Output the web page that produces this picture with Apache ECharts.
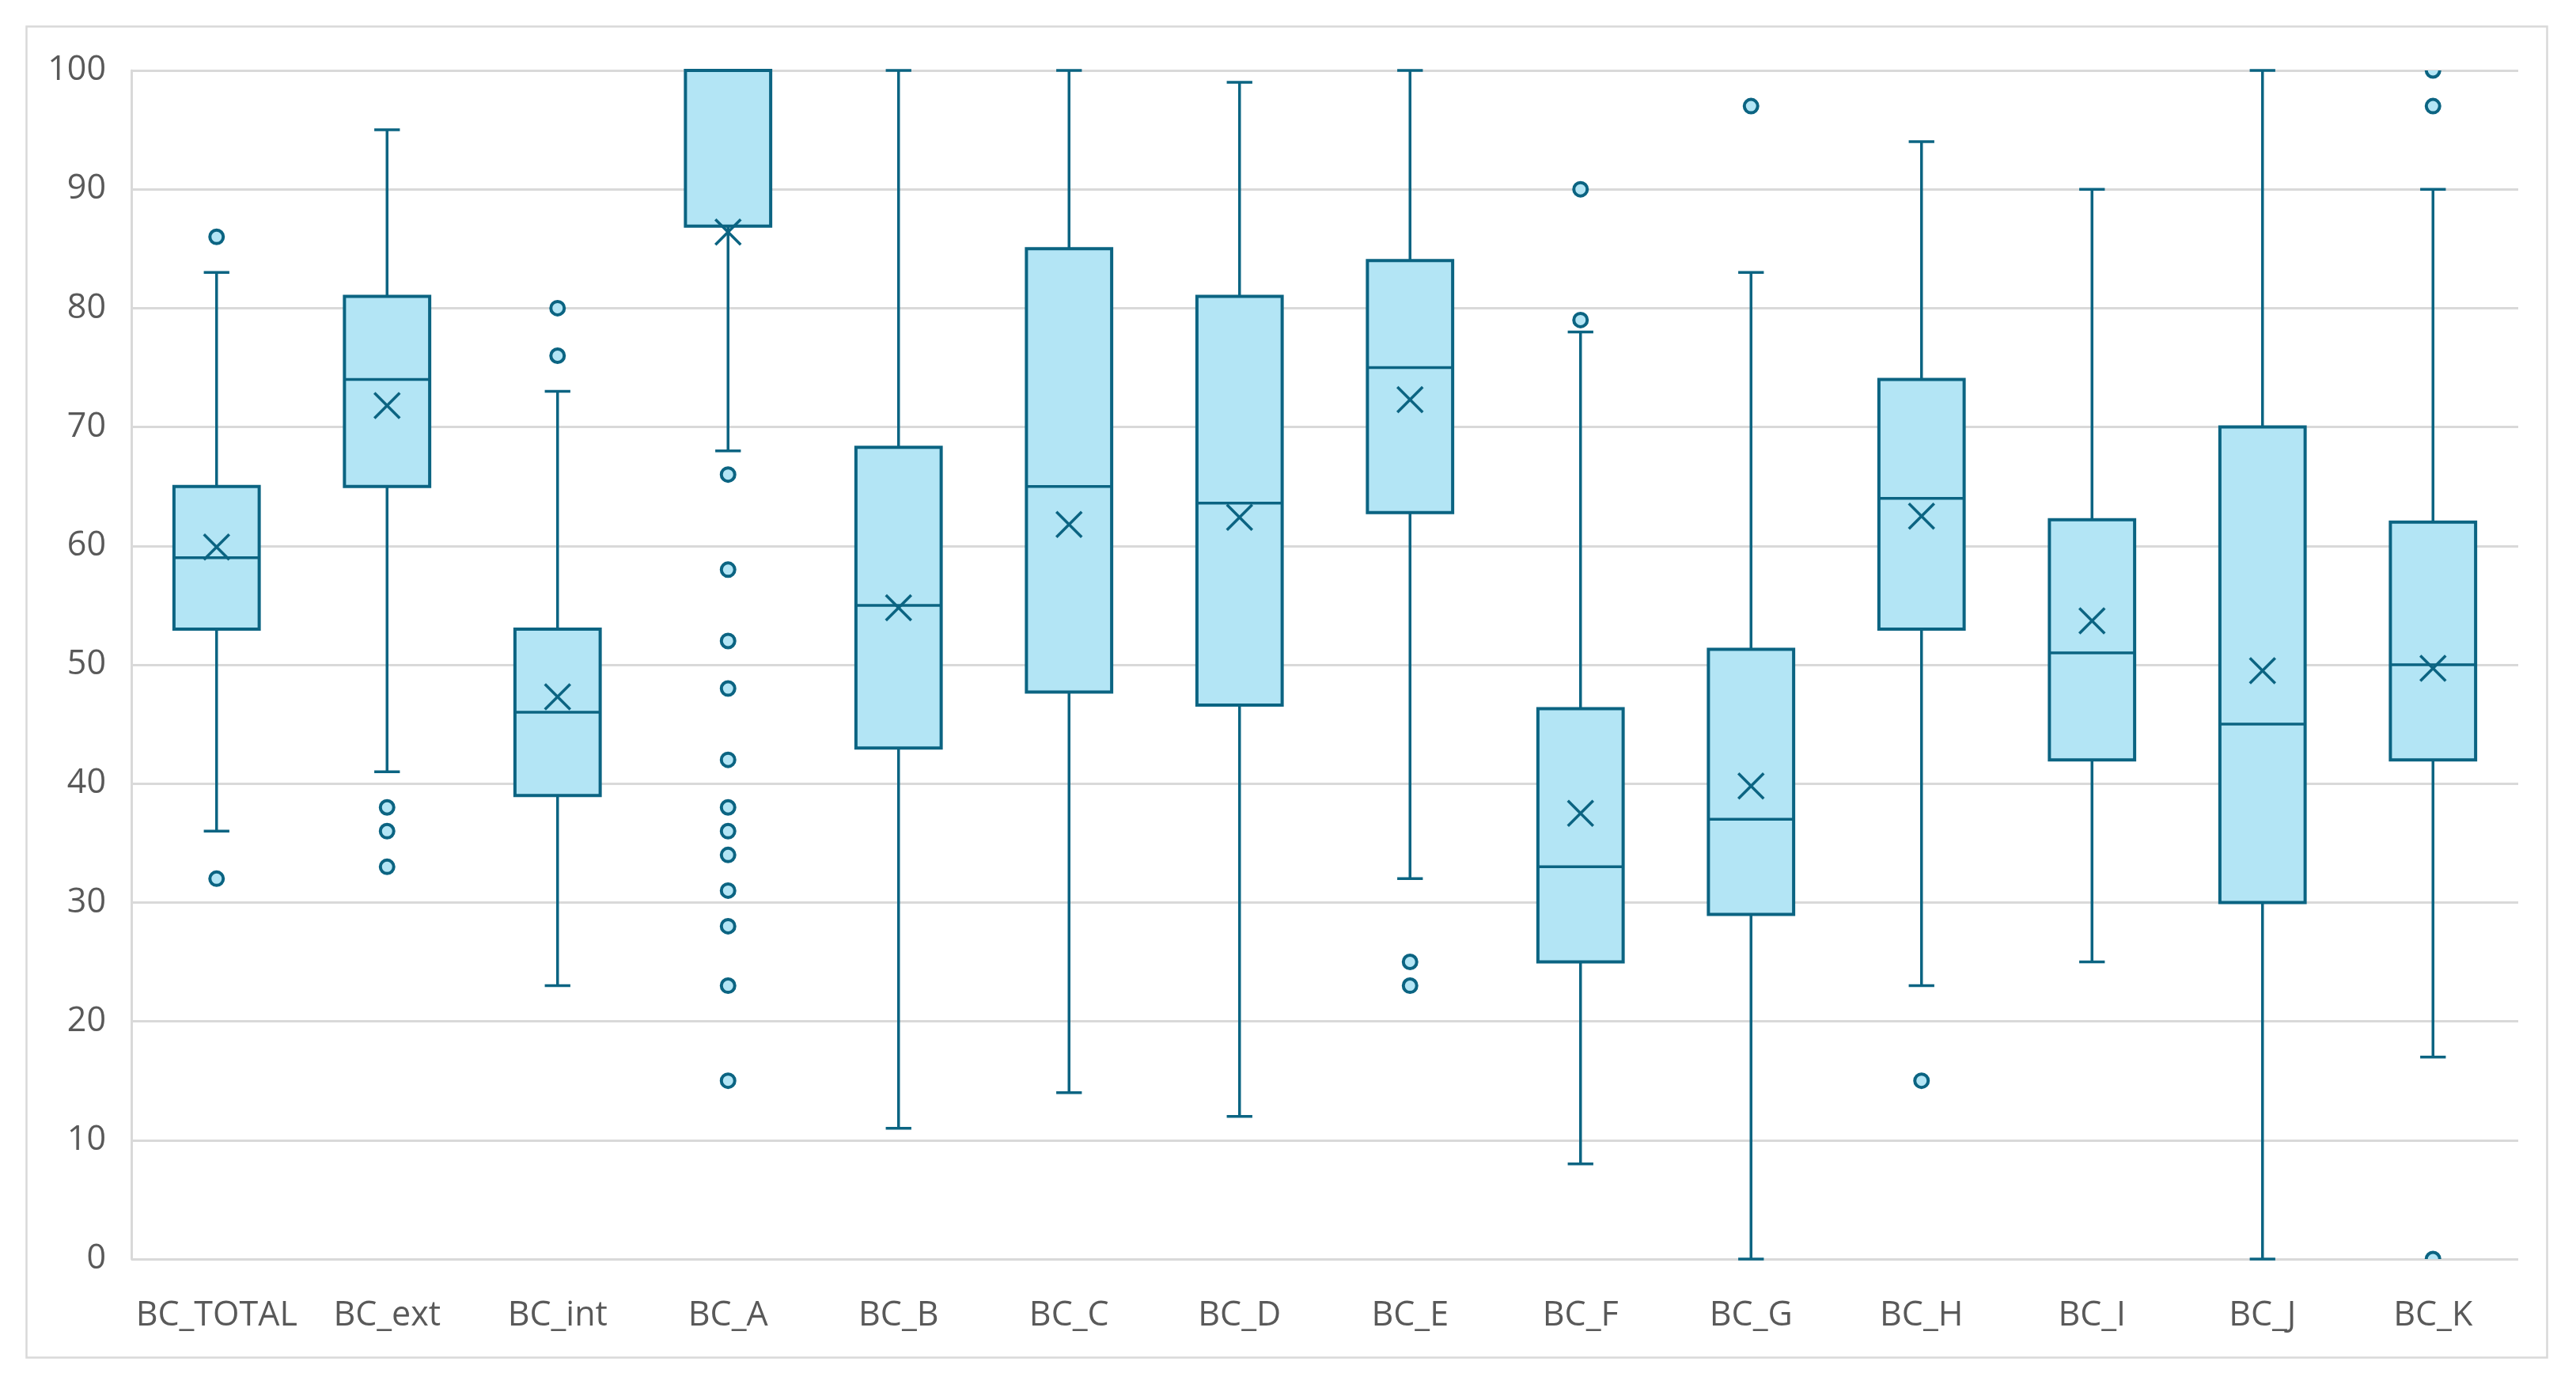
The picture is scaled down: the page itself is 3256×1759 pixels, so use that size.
<!DOCTYPE html>
<html><head><meta charset="utf-8">
<script src="https://cdn.jsdelivr.net/npm/echarts@6/dist/echarts.min.js"></script>
<style>html,body{margin:0;padding:0;background:#fff}#c{width:3256px;height:1759px}</style>
</head><body><div id="c"></div>
<script>
const categories = ['BC_TOTAL','BC_ext','BC_int','BC_A','BC_B','BC_C','BC_D','BC_E','BC_F','BC_G','BC_H','BC_I','BC_J','BC_K'];
const whiskerLow  = [36, 41, 23, 68,   11, 14,   12,   32,   8,    0,    23, 25,   0,  17];
const q1          = [53, 65, 39, 86.9, 43, 47.7, 46.6, 62.8, 25,   29,   53, 42,   30, 42];
const median      = [59, 74, 46, 100,  55, 65,   63.6, 75,   33,   37,   64, 51,   45, 50];
const q3          = [65, 81, 53, 100,  68.3, 85, 81,   84,   46.3, 51.3, 74, 62.2, 70, 62];
const whiskerHigh = [83, 95, 73, 100,  100, 100, 99,   100,  78,   83,   94, 90,   100, 90];
const means       = [59.9, 71.8, 47.3, 86.4, 54.8, 61.8, 62.4, 72.3, 37.5, 39.8, 62.5, 53.7, 49.5, 49.7];
const outliers = [
  [86, 32],
  [38, 36, 33],
  [80, 76],
  [66, 58, 52, 48, 42, 38, 36, 34, 31, 28, 23, 15],
  [], [], [],
  [25, 23],
  [90, 79],
  [97],
  [15],
  [], [],
  [100, 97, 0]
];
const yMin = 0, yMax = 100, yStep = 10;

const STROKE = '#0B6482';
const FILL = '#B3E5F5';
const GRID = '#D9D9D9';
const TEXT = '#595959';
const FONT = '"Open Sans", "Noto Sans", sans-serif';

const boxData = categories.map((c, i) => [i, whiskerLow[i], q1[i], median[i], q3[i], whiskerHigh[i]]);
const meanData = categories.map((c, i) => [i, means[i]]);
const outlierData = [];
outliers.forEach((arr, i) => arr.forEach(v => outlierData.push([i, v])));

function renderBox(params, api) {
  const i = api.value(0);
  const lo = api.coord([i, api.value(1)]);
  const p1 = api.coord([i, api.value(2)]);
  const pm = api.coord([i, api.value(3)]);
  const p3 = api.coord([i, api.value(4)]);
  const hi = api.coord([i, api.value(5)]);
  const band = api.size([1, 0])[0];
  const bw = band * 0.5, ch = band * 0.075;
  const x = lo[0];
  const ls = { stroke: STROKE, lineWidth: 3.5 };
  return { type: 'group', children: [
    { type: 'line', shape: { x1: x, y1: lo[1], x2: x, y2: p1[1] }, style: ls },
    { type: 'line', shape: { x1: x, y1: p3[1], x2: x, y2: hi[1] }, style: ls },
    { type: 'line', shape: { x1: x - ch, y1: lo[1], x2: x + ch, y2: lo[1] }, style: ls },
    { type: 'line', shape: { x1: x - ch, y1: hi[1], x2: x + ch, y2: hi[1] }, style: ls },
    { type: 'rect', shape: { x: x - bw / 2, y: p3[1], width: bw, height: p1[1] - p3[1] },
      style: { fill: FILL, stroke: STROKE, lineWidth: 4 } },
    { type: 'line', shape: { x1: x - bw / 2, y1: pm[1], x2: x + bw / 2, y2: pm[1] }, style: ls }
  ]};
}
function renderMean(params, api) {
  const p = api.coord([api.value(0), api.value(1)]);
  const h = 16;
  const ls = { stroke: STROKE, lineWidth: 3.5 };
  return { type: 'group', children: [
    { type: 'line', shape: { x1: p[0] - h, y1: p[1] - h, x2: p[0] + h, y2: p[1] + h }, style: ls },
    { type: 'line', shape: { x1: p[0] - h, y1: p[1] + h, x2: p[0] + h, y2: p[1] - h }, style: ls }
  ]};
}
function renderOutlier(params, api) {
  const p = api.coord([api.value(0), api.value(1)]);
  return { type: 'circle', shape: { cx: p[0], cy: p[1], r: 8.5 },
    style: { fill: FILL, stroke: STROKE, lineWidth: 4 } };
}

const chart = echarts.init(document.getElementById('c'), null, { renderer: 'canvas' });
chart.setOption({
  animation: false,
  backgroundColor: '#fff',
  textStyle: { fontFamily: FONT },
  graphic: [{ type: 'rect', left: 31, top: 31, z: -10,
    shape: { width: 3186, height: 1682 },
    style: { fill: 'none', stroke: GRID, lineWidth: 2.5 } }],
  grid: { left: 166, right: 73, top: 89, bottom: 168, containLabel: false },
  xAxis: {
    type: 'category', data: categories, boundaryGap: true,
    axisLine: { show: false }, axisTick: { show: false },
    axisLabel: { fontSize: 43, color: TEXT, margin: 50, interval: 0, fontFamily: FONT }
  },
  yAxis: {
    type: 'value', min: yMin, max: yMax, interval: yStep,
    axisLine: { show: true, lineStyle: { color: GRID, width: 3 } },
    axisTick: { show: false },
    splitLine: { show: true, lineStyle: { color: GRID, width: 3 } },
    axisLabel: { fontSize: 43, color: TEXT, margin: 32, fontFamily: FONT }
  },
  series: [
    { type: 'custom', name: 'box', renderItem: renderBox, data: boxData, encode: { x: 0, y: [1, 2, 3, 4, 5] }, clip: false, z: 2 },
    { type: 'custom', name: 'outliers', renderItem: renderOutlier, data: outlierData, encode: { x: 0, y: 1 }, clip: true, z: 3 },
    { type: 'custom', name: 'mean', renderItem: renderMean, data: meanData, encode: { x: 0, y: 1 }, clip: false, z: 4 }
  ]
});
</script></body></html>
